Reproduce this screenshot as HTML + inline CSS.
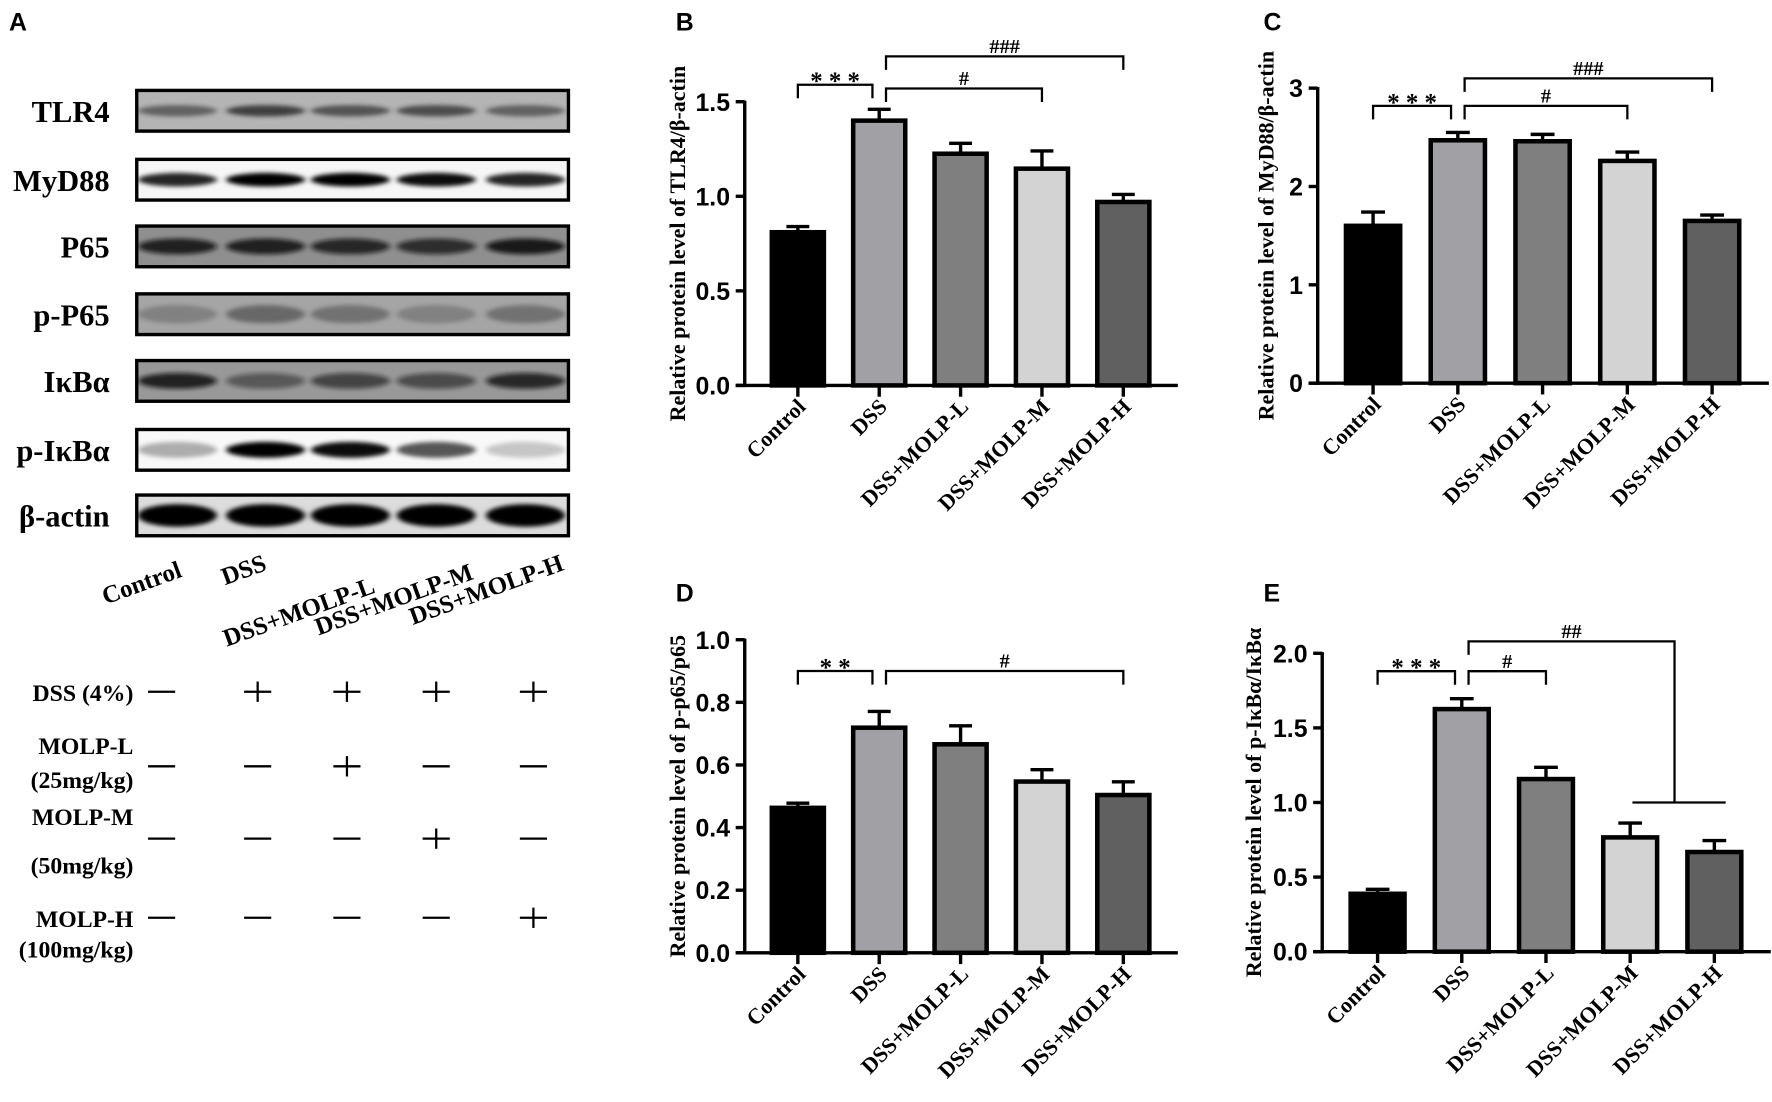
<!DOCTYPE html>
<html><head><meta charset="utf-8"><style>
html,body{margin:0;padding:0;background:#fff;overflow:hidden}
svg{display:block}
.ser{font-family:"Liberation Serif",serif;font-weight:bold}
.san{font-family:"Liberation Sans",sans-serif;font-weight:bold}
</style></head><body>
<svg id="fig" width="1772" height="1102" viewBox="0 0 1568 975" preserveAspectRatio="none" xmlns="http://www.w3.org/2000/svg">
<defs>
<filter id="blur" x="-30%" y="-80%" width="160%" height="260%"><feGaussianBlur stdDeviation="2.5 2"/></filter>
<clipPath id="blotclip"><rect x="121" y="0" width="382" height="975"/></clipPath>
</defs>
<g id="panelA"></g>
<g id="charts"></g>
</svg>
<script>
// ---------- Chart data ----------
const categories = ["Control","DSS","DSS+MOLP-L","DSS+MOLP-M","DSS+MOLP-H"];
const tlr4Values = [0.81,1.40,1.225,1.146,0.97];
const tlr4Errors = [0.03,0.06,0.055,0.094,0.04];
const myd88Values = [1.60,2.47,2.46,2.26,1.65];
const myd88Errors = [0.14,0.08,0.07,0.09,0.06];
const pp65Values = [0.463,0.719,0.666,0.547,0.504];
const pp65Errors = [0.015,0.052,0.059,0.038,0.042];
const pikbaValues = [0.388,1.626,1.157,0.766,0.668];
const pikbaErrors = [0.03,0.07,0.079,0.096,0.077];
const tlr4Ticks = ["0.0","0.5","1.0","1.5"];
const myd88Ticks = ["0","1","2","3"];
const pp65Ticks = ["0.0","0.2","0.4","0.6","0.8","1.0"];
const pikbaTicks = ["0.0","0.5","1.0","1.5","2.0"];
const barColors = ["#000000","#a1a1a5","#7f7f7f","#d3d3d3","#606060"];

const NS="http://www.w3.org/2000/svg";
function mk(tag,attrs,parent){const e=document.createElementNS(NS,tag);for(const k in attrs)e.setAttribute(k,attrs[k]);if(parent)parent.appendChild(e);return e;}

// ---------- Panel A ----------
const A=document.getElementById('panelA');
const lblA=mk('text',{x:8,y:27,'font-size':22,class:'san'},A);lblA.textContent='A';


const lanes=[157,235,310,386,465];
const blotRows=[
 {name:'TLR4',y:80,bg:'#b4b4b4',band:'#2a2a2a',op:[0.6,0.85,0.7,0.75,0.6],h:5},
 {name:'MyD88',y:141,bg:'#f6f6f6',band:'#000',op:[0.85,1,1,0.95,0.85],h:6},
 {name:'P65',y:200,bg:'#8f8f8f',band:'#111',op:[0.85,0.85,0.8,0.75,0.9],h:7},
 {name:'p-P65',y:260,bg:'#a5a5a5',band:'#404040',op:[0.35,0.6,0.5,0.35,0.5],h:8},
 {name:'IκBα',y:319,bg:'#989898',band:'#111',op:[0.85,0.45,0.6,0.55,0.8],h:7},
 {name:'p-IκBα',y:380,bg:'#f8f8f8',band:'#000',op:[0.3,1,0.95,0.65,0.2],h:7},
 {name:'β-actin',y:438,bg:'#dcdcdc',band:'#000',op:[1,1,1,1,1],h:10}
];
blotRows.forEach((r,ri)=>{
 const g=mk('g',{},A);
 
 
 mk('rect',{x:121,y:r.y,width:382,height:36,fill:r.bg},g);
 const bg2=mk('g',{'clip-path':'url(#blotclip)'},g);
 lanes.forEach((lx,i)=>{
  const b=mk('ellipse',{cx:lx,cy:r.y+18,rx:35,ry:r.h,fill:r.band,opacity:r.op[i],filter:'url(#blur)'},bg2);
  
  
 });
 mk('rect',{x:121,y:r.y,width:382,height:36,fill:'none',stroke:'#000','stroke-width':3},g);
 const t=mk('text',{x:97,y:r.y+28,'font-size':27,'text-anchor':'end',class:'ser'},g);t.textContent=r.name;
 
 
});
const laneLbl=[[162,510,'Control'],[237,504,'DSS'],[333,524,'DSS+MOLP-L'],[420,512,'DSS+MOLP-M'],[500,504,'DSS+MOLP-H']];
laneLbl.forEach(l=>{
 const t=mk('text',{x:l[0],y:l[1],'font-size':22,'text-anchor':'end',class:'ser',transform:`rotate(-20 ${l[0]} ${l[1]})`},A);t.textContent=l[2];
 
 
});
const tbl=[
 {lines:[['DSS (4%)',620]],y:612,m:['-','+','+','+','+']},
 {lines:[['MOLP-L',667],['(25mg/kg)',697]],y:678,m:['-','-','+','-','-']},
 {lines:[['MOLP-M',730],['(50mg/kg)',773]],y:742,m:['-','-','-','+','-']},
 {lines:[['MOLP-H',820],['(100mg/kg)',847]],y:812,m:['-','-','-','-','+']}
];
const markX=[143,228,307,386,472];
tbl.forEach(r=>{
 r.lines.forEach(l=>{const t=mk('text',{x:118,y:l[1],'font-size':21,'text-anchor':'end',class:'ser'},A);t.textContent=l[0];
  
  });
 r.m.forEach((m,i)=>{
  const g=mk('g',{},A);
  
  
  mk('line',{x1:markX[i]-12,y1:r.y,x2:markX[i]+12,y2:r.y,stroke:'#000','stroke-width':2},g);
  if(m==='+')mk('line',{x1:markX[i],y1:r.y-9,x2:markX[i],y2:r.y+9,stroke:'#000','stroke-width':2},g);
 });
});

// ---------- Bar charts ----------
const C=document.getElementById('charts');
function chart(o){
 const g=mk('g',{},C);
 
 
 const ys=v=>o.y0-(v/o.vmax)*(o.y0-o.yTop);
 const xs=i=>o.c0+i*o.sp;
 const axisEnd=xs(categories.length-1)+o.sp*0.67;
 const pl=mk('text',{x:o.lx,y:o.ly,'font-size':22,class:'san'},g);pl.textContent=o.label;
 
 
 o.vals.forEach((v,i)=>{
  const bw=o.sp*0.64;
  const eTop=ys(v+o.errs[i]);
  const el=mk('line',{x1:xs(i),y1:ys(v),x2:xs(i),y2:eTop,stroke:'#000','stroke-width':3},g);
  
  
  const cap=mk('line',{x1:xs(i)-bw*0.22,y1:eTop,x2:xs(i)+bw*0.22,y2:eTop,stroke:'#000','stroke-width':3},g);
  
  
  const r=mk('rect',{x:xs(i)-bw/2,y:ys(v),width:bw,height:o.y0-ys(v),fill:barColors[i],stroke:'#000','stroke-width':4},g);
  
  
 });
 const ya=mk('line',{x1:o.x0,y1:o.yTop-1,x2:o.x0,y2:o.y0+1.5,stroke:'#000','stroke-width':3},g);
 
 
 const xa=mk('line',{x1:o.x0-8,y1:o.y0,x2:axisEnd,y2:o.y0,stroke:'#000','stroke-width':3},g);
 
 
 o.ticks.forEach((t,i)=>{
  const v=parseFloat(t);const y=ys(v);
  mk('line',{x1:o.x0-8,y1:y,x2:o.x0,y2:y,stroke:'#000','stroke-width':3},g);
  const tx=mk('text',{x:o.x0-13,y:y+8,'font-size':22,'text-anchor':'end',class:'san'},g);tx.textContent=t;
  
  
 });
 categories.forEach((c,i)=>{
  mk('line',{x1:xs(i),y1:o.y0,x2:xs(i),y2:o.y0+10,stroke:'#000','stroke-width':3},g);
  const ax=xs(i)+8, ay=o.y0+20;
  const t=mk('text',{x:ax,y:ay,'font-size':19.5,'text-anchor':'end',class:'ser',transform:`rotate(-45 ${ax} ${ay})`},g);t.textContent=c;
  
  
 });
 const tyc=(o.y0+o.yTop)/2;
 const tt=mk('text',{x:o.tx,y:tyc,'font-size':19.5,'text-anchor':'middle',class:'ser',transform:`rotate(-90 ${o.tx} ${tyc})`},g);tt.textContent=o.title;
 
 
 o.sig.forEach(s=>{
  const sg=mk('g',{},g);
  
  
  const x1=xs(s.a)+(s.a===1?6:0), x2=xs(s.b)-(s.b===1?6:0);
  const y=ys(s.v), leg=s.leg||12;
  mk('path',{d:`M${x1} ${y+leg} V${y} H${x2} V${y+leg}`,fill:'none',stroke:'#000','stroke-width':2},sg);
  const t=mk('text',{x:(x1+x2)/2,y:s.t[0]==='*'?y+4:y-3,'font-size':s.t[0]==='*'?22:18,'text-anchor':'middle',class:'ser','font-weight':'normal'},sg);
  t.textContent=s.t;
 });
 if(o.extra)o.extra(g,xs,ys);
}
chart({name:'chart-b-tlr4',label:'B',lx:598,ly:27,x0:659,c0:706,sp:72,y0:341,yTop:90,vmax:1.5,vals:tlr4Values,errs:tlr4Errors,ticks:tlr4Ticks,tx:606,
 title:'Relative protein level of TLR4/β-actin',
 sig:[{a:0,b:1,v:1.59,t:'* * *'},{a:1,b:3,v:1.57,t:'#'},{a:1,b:4,v:1.74,t:'###'}]});
chart({name:'chart-c-myd88',label:'C',lx:1118,ly:27,x0:1166,c0:1215,sp:75,y0:339,yTop:78,vmax:3,vals:myd88Values,errs:myd88Errors,ticks:myd88Ticks,tx:1127,
 title:'Relative protein level of MyD88/β-actin',
 sig:[{a:0,b:1,v:2.82,t:'* * *'},{a:1,b:3,v:2.82,t:'#'},{a:1,b:4,v:3.1,t:'###'}]});
chart({name:'chart-d-pp65',label:'D',lx:598,ly:532,x0:659,c0:706,sp:72,y0:843,yTop:566,vmax:1.0,vals:pp65Values,errs:pp65Errors,ticks:pp65Ticks,tx:606,
 title:'Relative protein level of p-p65/p65',
 sig:[{a:0,b:1,v:0.9,t:'* *'},{a:1,b:4,v:0.9,t:'#'}]});
chart({name:'chart-e-pikba',label:'E',lx:1118,ly:532,x0:1170,c0:1219,sp:74.5,y0:842,yTop:578,vmax:2.0,vals:pikbaValues,errs:pikbaErrors,ticks:pikbaTicks,tx:1116,
 title:'Relative protein level of p-IκBα/IκBα',
 sig:[{a:0,b:1,v:1.88,t:'* * *'},{a:1,b:2,v:1.88,t:'#'}],
 extra:(g,xs,ys)=>{
  const sg=mk('g',{},g);
  
  
  const x1=xs(1)+6, xm=(xs(3)+xs(4))/2+2, y=ys(2.08), yb=ys(1.0);
  mk('path',{d:`M${x1} ${y+12} V${y} H${xm} V${yb}`,fill:'none',stroke:'#000','stroke-width':2},sg);
  mk('line',{x1:xs(3)+2,y1:yb,x2:xs(4)+10,y2:yb,stroke:'#000','stroke-width':2},sg);
  const t=mk('text',{x:(x1+xm)/2,y:y-3,'font-size':18,'text-anchor':'middle',class:'ser','font-weight':'normal'},sg);t.textContent='##';
 }});
</script>
</body></html>
